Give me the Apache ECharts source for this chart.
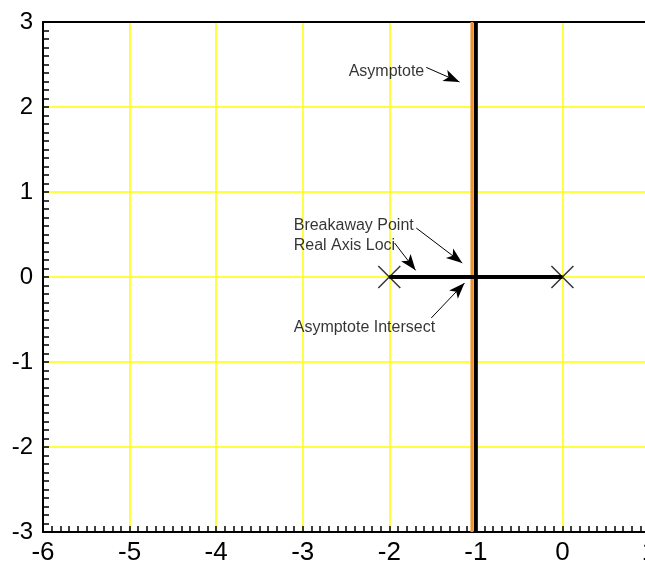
<!DOCTYPE html>
<html>
<head>
<meta charset="utf-8">
<script src="https://cdn.jsdelivr.net/npm/echarts@6/dist/echarts.min.js"></script>
<style>html,body{margin:0;padding:0;background:#fff}#c{width:645px;height:564px}</style>
</head>
<body>
<div id="c"></div>
<script>
// ---- data ----
var xTicks = [-6, -5, -4, -3, -2, -1, 0, 1];
var yTicks = [-3, -2, -1, 0, 1, 2, 3];
var poles = [[-2, 0], [0, 0]];
var realAxisLoci = [[-2, 0], [0, 0]];
var verticalLoci = [[-1, -3], [-1, 3]];
var asymptoteX = -1.045;
var asymptoteLine = [[asymptoteX, -3], [asymptoteX, 3]];
var annotationTexts = ['Asymptote', 'Breakaway Point', 'Real Axis Loci', 'Asymptote Intersect'];
var annotationTextPos = [[-2.469, 2.42], [-3.104, 0.607], [-3.104, 0.372], [-3.104, -0.6]];
var arrowStart = [[-1.573, 2.466], [-1.688, 0.576], [-1.939, 0.40], [-1.515, -0.482]];
var arrowEnd = [[-1.189, 2.294], [-1.157, 0.165], [-1.696, 0.078], [-1.131, -0.071]];

var FONT = 'Liberation Sans, Arial, Helvetica, sans-serif';
var chart = echarts.init(document.getElementById('c'));

var arrowData = arrowStart.map(function (s, i) {
  return [{ coord: s, symbol: 'none' }, { coord: arrowEnd[i], symbol: 'arrow' }];
});
var textData = annotationTexts.map(function (t, i) {
  return { name: t, value: annotationTextPos[i] };
});

var axisCommon = {
  type: 'value',
  interval: 1,
  axisLine: { show: true, onZero: false, lineStyle: { color: '#000', width: 2 } },
  axisTick: { show: true, inside: true, length: 6, lineStyle: { color: '#000', width: 1.5 } },
  minorTick: { show: true, splitNumber: 10, length: 6, lineStyle: { color: '#000', width: 1.5 } },
  splitLine: { show: true, lineStyle: { color: '#ffff00', width: 1.5 } },
  axisLabel: { color: '#000', fontSize: 24, fontFamily: FONT }
};

chart.setOption({
  animation: false,
  backgroundColor: '#fff',
  grid: {
    left: 43, top: 22, right: -4, bottom: 32,
    outerBoundsMode: 'none', containLabel: false,
    show: false
  },
  xAxis: [
    Object.assign({}, axisCommon, {
      min: xTicks[0], max: xTicks[xTicks.length - 1],
      axisLabel: Object.assign({}, axisCommon.axisLabel, { fontSize: 26, margin: 8, showMaxLabel: true })
    }),
    {
      type: 'value', position: 'top',
      min: xTicks[0], max: xTicks[xTicks.length - 1], interval: 1,
      axisLine: { show: true, onZero: false, lineStyle: { color: '#000', width: 2 } },
      axisTick: { show: false }, axisLabel: { show: false }, splitLine: { show: false }
    }
  ],
  yAxis: Object.assign({}, axisCommon, {
    min: yTicks[0], max: yTicks[yTicks.length - 1],
    axisLabel: Object.assign({}, axisCommon.axisLabel, { margin: 10 })
  }),
  series: [
    {
      type: 'line', data: asymptoteLine, symbol: 'none', z: 3,
      lineStyle: { color: '#f0922e', width: 3 }
    },
    {
      type: 'line', data: verticalLoci, symbol: 'none', z: 4,
      lineStyle: { color: '#000', width: 4 }
    },
    {
      type: 'line', data: realAxisLoci, symbol: 'none', z: 4,
      lineStyle: { color: '#000', width: 4 }
    },
    {
      type: 'scatter', data: poles, z: 5,
      symbol: 'path://M0,0L10,10M10,0L0,10', symbolSize: 22,
      itemStyle: { color: 'none', borderColor: '#000', borderWidth: 1.5 }
    },
    {
      type: 'scatter', data: textData, symbolSize: 0, z: 6,
      label: {
        show: true, position: 'right', distance: 0, formatter: '{b}',
        color: '#000', fontSize: 16, fontFamily: FONT
      },
      markLine: {
        silent: true, symbolSize: [9, 16],
        label: { show: false },
        lineStyle: { color: '#000', width: 1, type: 'solid' },
        data: arrowData
      }
    }
  ]
});
</script>
</body>
</html>
